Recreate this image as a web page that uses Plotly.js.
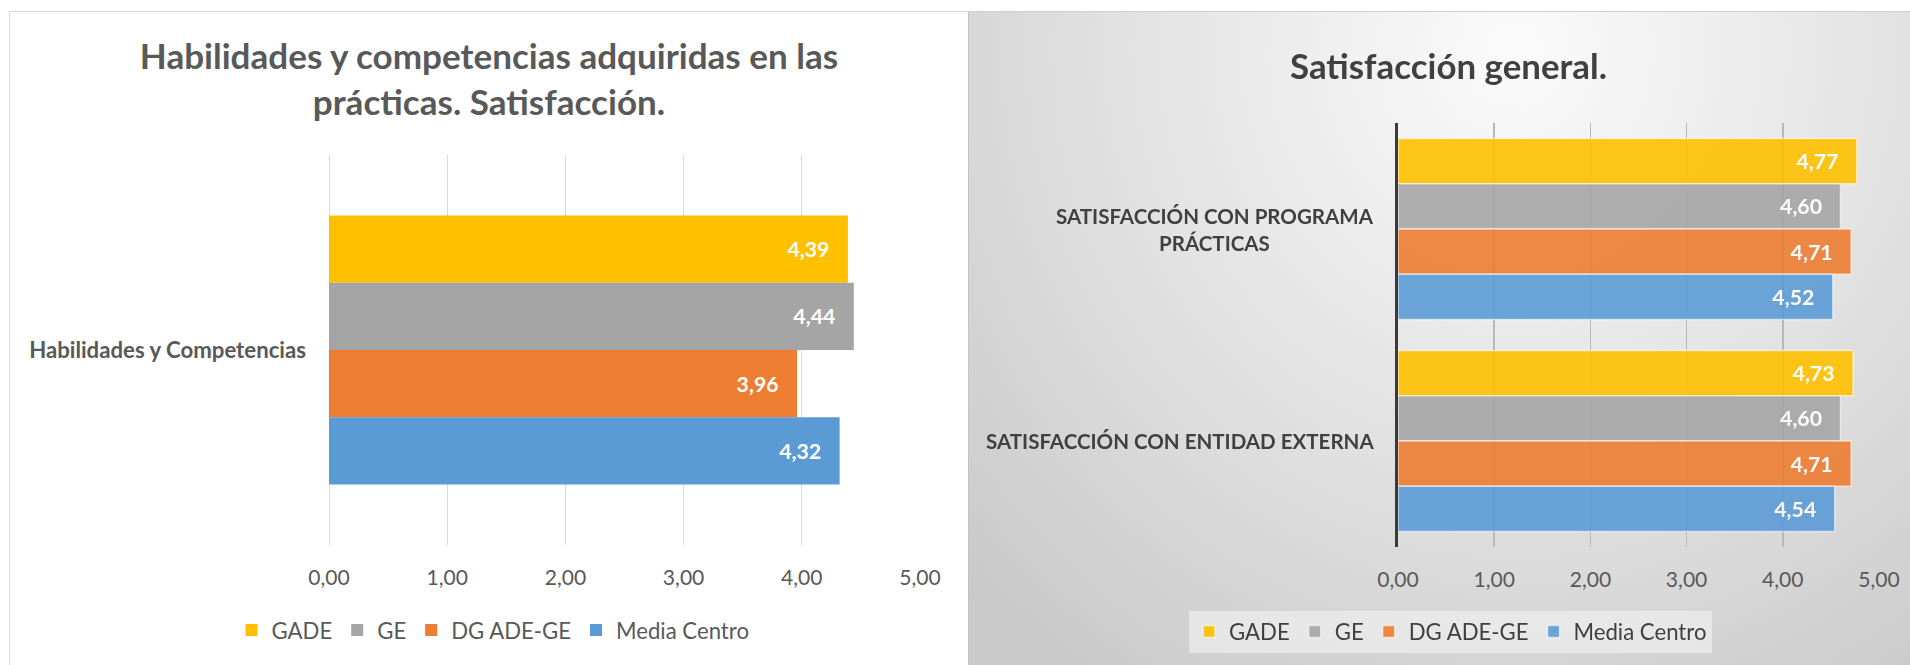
<!DOCTYPE html>
<html><head><meta charset="utf-8">
<script src="https://cdn.plot.ly/plotly-3.0.1.min.js"></script>
<style>
body{margin:0;background:#fff;width:1910px;height:665px;overflow:hidden;position:relative;}
#lw{position:absolute;left:9px;top:11px;width:958px;height:653px;border-left:1px solid #d9d9d9;border-top:1px solid #d9d9d9;background:#fff;}
#rw{position:absolute;left:968px;top:11px;width:941px;height:653px;border-left:1px solid #c4c4c4;border-top:1px solid #d0d0d0;
 background:radial-gradient(ellipse 80% 120% at 58% 6%, #fbfbfb 0%, #efefef 25%, #dedede 60%, #c9c9c9 100%);}
</style></head>
<body>
<div id="lw"><div id="left"></div></div>
<div id="rw"><div id="right"></div></div>
<script>
// ---- data ----
const seriesNames = ['GADE', 'GE', 'DG ADE-GE', 'Media Centro'];
const habCategories = ['Habilidades y Competencias'];
const habGADE = [4.39];
const habGE = [4.44];
const habDG = [3.96];
const habMedia = [4.32];
const satCategories = ['SATISFACCIÓN CON PROGRAMA<br>PRÁCTICAS', 'SATISFACCIÓN CON ENTIDAD EXTERNA'];
const satGADE = [4.77, 4.73];
const satGE = [4.60, 4.60];
const satDG = [4.71, 4.71];
const satMedia = [4.52, 4.54];
const tickValues = [0, 1, 2, 3, 4, 5];
const leftTitle = 'Habilidades y competencias adquiridas en las<br>prácticas. Satisfacción.';
const rightTitle = 'Satisfacción general.';

// ---- style ----
const seriesColors = ['#FFC000', '#A5A5A5', '#ED7D31', '#5B9BD5'];
const FAM = 'Lato, "Open Sans", sans-serif';
const cv = document.createElement('canvas').getContext('2d');
function fit(text, weight, w) {
  cv.font = weight + ' 100px Lato';
  return 100 * w / cv.measureText(text).width;
}
const sTitleL = fit('Habilidades y competencias adquiridas en las', 'bold', 700);
const sTitleR = fit('Satisfacción general.', 'bold', 317);
const sCatL = fit('Habilidades y Competencias', 'bold', 278);
const sCatR = fit('SATISFACCIÓN CON ENTIDAD EXTERNA', 'bold', 388);
const sTick = fit('0,00', 'normal', 41.5);
const sLeg = fit('Media Centro', 'normal', 133);
const sLab = fit('4,77', 'bold', 42);
const PAD = '\u00a0\u00a0\u00a0';

function makeTraces(cats, vals, opts) {
  return vals.map((v, i) => ({
    type: 'bar', orientation: 'h', name: seriesNames[i], x: v, y: cats,
    marker: Object.assign({color: seriesColors[i]}, opts.marker || {}),
    opacity: opts.opacity || 1,
    texttemplate: '%{x:.2f}' + PAD, textposition: 'inside', insidetextanchor: 'end',
    textfont: {family: FAM, size: sLab, color: '#ffffff', weight: 'bold'},
    hoverinfo: 'x+name', cliponaxis: false
  }));
}

// ---- left chart ----
const leftTraces = makeTraces(habCategories, [habGADE, habGE, habDG, habMedia], {});
Plotly.newPlot('left', leftTraces, {
  width: 958, height: 653, separators: ',.',
  paper_bgcolor: '#ffffff', plot_bgcolor: 'rgba(0,0,0,0)',
  margin: {l: 319, r: 48, t: 143, b: 120},
  barmode: 'group', bargap: 0.31, bargroupgap: 0,
  font: {family: FAM, color: '#595959'},
  title: {text: leftTitle, font: {family: FAM, size: sTitleL, color: '#595959', weight: 'bold'},
          x: 0.5, xref: 'container', xanchor: 'center', y: 1 - 57 / 653, yref: 'container', yanchor: 'middle'},
  xaxis: {range: [0, 5], tickvals: tickValues, tickformat: '.2f', showgrid: true, gridcolor: '#d9d9d9', gridwidth: 1,
          zeroline: true, zerolinecolor: '#d9d9d9', zerolinewidth: 1, showline: false, ticks: '', ticklabelstandoff: 18,
          tickfont: {family: FAM, size: sTick, color: '#595959'}, fixedrange: true},
  yaxis: {autorange: 'reversed', type: 'category', showgrid: false, zeroline: false, showline: false, ticks: '',
          ticklabelstandoff: 22, tickfont: {family: FAM, size: sCatL, color: '#595959', weight: 'bold'}, fixedrange: true},
  showlegend: true,
  legend: {orientation: 'h', x: 483 / 958, xref: 'container', xanchor: 'center', y: 1 - 618 / 653, yref: 'container', yanchor: 'middle',
           font: {family: FAM, size: sLeg, color: '#595959'}, traceorder: 'normal', bgcolor: 'rgba(0,0,0,0)'}
}, {displayModeBar: false, staticPlot: true});

// ---- right chart ----
const rightTraces = makeTraces(satCategories, [satGADE, satGE, satDG, satMedia],
  {opacity: 0.9, marker: {line: {color: 'rgba(255,255,255,0.6)', width: 1.5}}});
const catAnnotations = satCategories.map((c, i) => ({
  xref: 'paper', x: 0, xanchor: 'right', xshift: -22, yref: 'y', y: i, yanchor: 'middle',
  text: c, align: 'center', showarrow: false,
  font: {family: FAM, size: sCatR, color: '#404040', weight: 'bold'}
}));
Plotly.newPlot('right', rightTraces, {
  width: 941, height: 653, separators: ',.',
  paper_bgcolor: 'rgba(0,0,0,0)', plot_bgcolor: 'rgba(0,0,0,0)',
  margin: {l: 429, r: 31, t: 111, b: 118},
  barmode: 'group', bargap: 0.146, bargroupgap: 0,
  font: {family: FAM, color: '#595959'},
  title: {text: rightTitle, font: {family: FAM, size: sTitleR, color: '#404040', weight: 'bold'},
          x: 479.5 / 941, xref: 'container', xanchor: 'center', y: 1 - 55 / 653, yref: 'container', yanchor: 'middle'},
  xaxis: {range: [0, 5], tickvals: tickValues, tickformat: '.2f', showgrid: true, gridcolor: '#b8b8b8', gridwidth: 1.5,
          zeroline: false, showline: false, ticks: '', ticklabelstandoff: 18,
          tickfont: {family: FAM, size: sTick, color: '#595959'}, fixedrange: true},
  yaxis: {autorange: 'reversed', type: 'category', showgrid: false, zeroline: false, showline: true,
          linecolor: '#3a3a3a', linewidth: 3, ticks: '', showticklabels: false, fixedrange: true},
  annotations: catAnnotations,
  showlegend: true,
  legend: {orientation: 'h', x: (220 - 429) / 481, xref: 'paper', xanchor: 'left', y: -(619.5 - 535) / 424, yref: 'paper', yanchor: 'middle',
           font: {family: FAM, size: sLeg, color: '#404040'}, traceorder: 'normal', bgcolor: 'rgba(245,245,245,0.55)'}
}, {displayModeBar: false, staticPlot: true});
</script>
</body></html>
